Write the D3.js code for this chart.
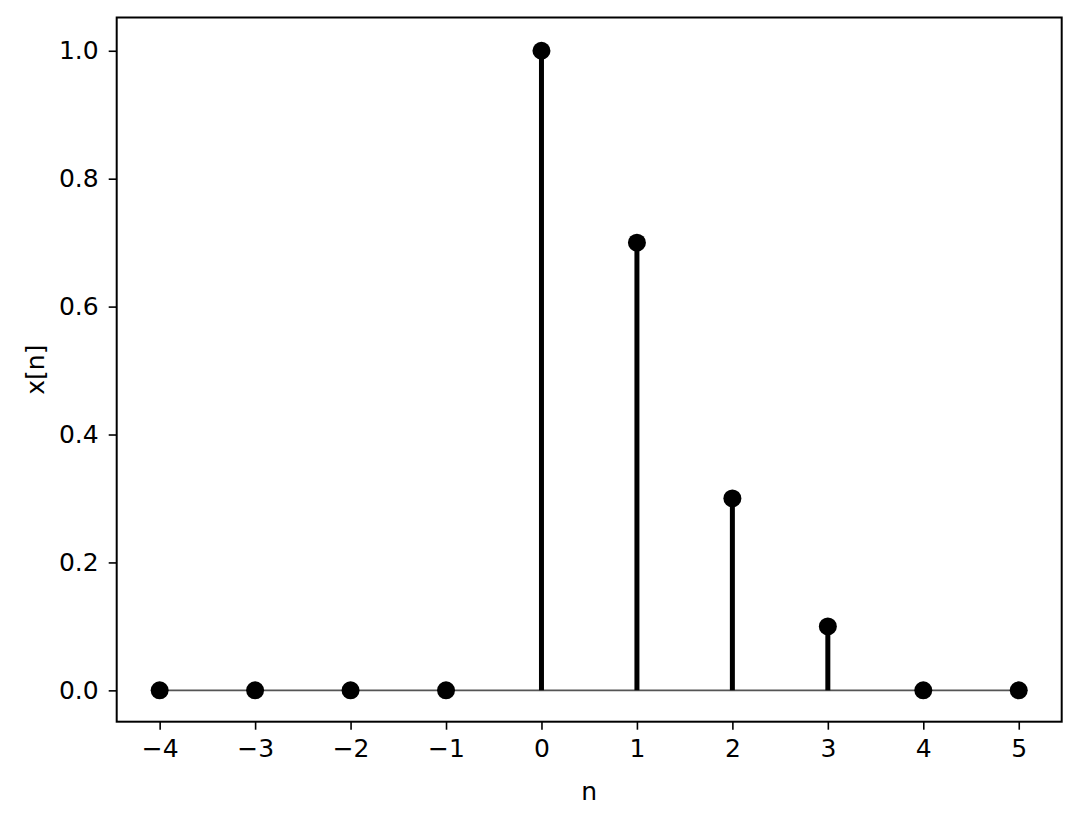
<!DOCTYPE html>
<html>
<head>
<meta charset="utf-8">
<script src="https://cdn.jsdelivr.net/npm/d3@7"></script>
<style>
  body { margin: 0; background: #fff; }
  text { font-family: "DejaVu Sans", sans-serif; fill: #000; }
</style>
</head>
<body>
<svg></svg>
<script>
var width = 1080,
    height = 824;

// data
var nValues = [-4, -3, -2, -1, 0, 1, 2, 3, 4, 5];
var xValues = [0, 0, 0, 0, 1.0, 0.7, 0.3, 0.1, 0, 0];
var xTicks = [-4, -3, -2, -1, 0, 1, 2, 3, 4, 5];
var yTicks = [0.0, 0.2, 0.4, 0.6, 0.8, 1.0];

// plot box
var plotLeft = 116.7, plotRight = 1061.7, plotTop = 17.5, plotBottom = 721.7;

var svg = d3.select("svg")
    .attr("width", width)
    .attr("height", height);

var x = d3.scaleLinear().domain([-4.45, 5.45]).range([plotLeft, plotRight]);
var y = d3.scaleLinear().domain([-0.049, 1.052]).range([plotBottom, plotTop]);

var fmtMinus = function(d) { return d < 0 ? "\u2212" + Math.abs(d) : "" + d; };

//baseline
svg.append("line")
  .attr("x1", x(nValues[0])).attr("x2", x(nValues[nValues.length - 1]))
  .attr("y1", y(0)).attr("y2", y(0))
  .attr("stroke", "#555")
  .attr("stroke-width", 1.6);

var data = nValues.map(function(n, i) { return {n: n, v: xValues[i]}; });

//stems
svg.selectAll(".stem")
    .data(data.filter(function(d) { return d.v !== 0; }))
  .enter().append("line")
    .attr("class", "stem")
    .attr("x1", function(d) { return x(d.n); })
    .attr("x2", function(d) { return x(d.n); })
    .attr("y1", y(0))
    .attr("y2", function(d) { return y(d.v); })
    .attr("stroke", "#000")
    .attr("stroke-width", 5);

//markers
svg.selectAll(".dot")
    .data(data)
  .enter().append("circle")
    .attr("class", "dot")
    .attr("cx", function(d) { return x(d.n); })
    .attr("cy", function(d) { return y(d.v); })
    .attr("r", 9)
    .attr("fill", "#000");

//axes
var xAxis = svg.append("g")
  .attr("transform", "translate(0," + plotBottom + ")")
  .call(d3.axisBottom(x).tickValues(xTicks).tickFormat(fmtMinus).tickSize(8).tickPadding(10));
var yAxis = svg.append("g")
  .attr("transform", "translate(" + plotLeft + ",0)")
  .call(d3.axisLeft(y).tickValues(yTicks).tickFormat(d3.format(".1f")).tickSize(8).tickPadding(10));

[xAxis, yAxis].forEach(function(a) {
  a.select(".domain").remove();
  a.selectAll(".tick line").attr("stroke", "#000").attr("stroke-width", 1.6);
  a.selectAll(".tick text")
    .style("font-family", "DejaVu Sans")
    .style("font-size", "25px")
    .attr("fill", "#000");
});

//frame
svg.append("rect")
  .attr("x", plotLeft).attr("y", plotTop)
  .attr("width", plotRight - plotLeft).attr("height", plotBottom - plotTop)
  .attr("fill", "none")
  .attr("stroke", "#000")
  .attr("stroke-width", 2);

//labels
svg.append("text")
  .attr("x", (plotLeft + plotRight) / 2)
  .attr("y", 800)
  .attr("text-anchor", "middle")
  .style("font-size", "25px")
  .text("n");

svg.append("text")
  .attr("transform", "translate(44," + ((plotTop + plotBottom) / 2) + ") rotate(-90)")
  .attr("text-anchor", "middle")
  .style("font-size", "25px")
  .text("x[n]");
</script>
</body>
</html>
